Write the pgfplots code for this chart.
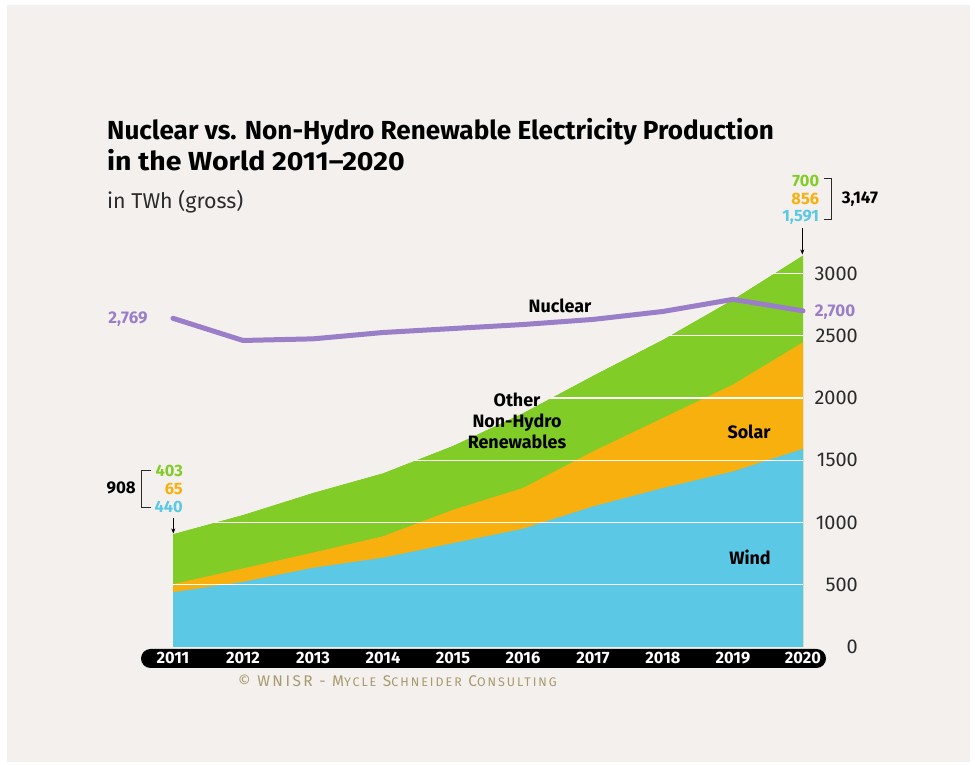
\documentclass[border=0pt]{standalone}
\usepackage{fontspec}
\setmainfont{Fira Sans}
\usepackage{pgfplots}
\usepackage{pgfplotstable}
\pgfplotsset{compat=1.18}
\usetikzlibrary{arrows.meta}

\definecolor{bg}{HTML}{F3F0ED}
\definecolor{cgreen}{HTML}{82CC27}
\definecolor{corange}{HTML}{F8B00F}
\definecolor{cblue}{HTML}{5BC8E5}
\definecolor{cnuc}{HTML}{9B7EC8}
\definecolor{ctan}{HTML}{A89A6E}
\definecolor{ctext}{HTML}{2B2B2B}

\pgfplotstableread{
year wind solar other nuclear
2011 440 65 403 2640
2012 523 108 431 2462
2013 636 122 481 2475
2014 717 172 508 2526
2015 834 268 515 2558
2016 950 327 603 2590
2017 1129 442 609 2631
2018 1277 563 630 2695
2019 1410 698 684 2792
2020 1591 856 700 2700
}\data
\pgfplotstablecreatecol[expr={\thisrow{wind}+\thisrow{solar}}]{ws}{\data}
\pgfplotstablecreatecol[expr={\thisrow{wind}+\thisrow{solar}+\thisrow{other}}]{total}{\data}

\newcommand{\fs}[1]{\fontsize{#1}{#1}\selectfont}

\begin{document}
\begin{tikzpicture}[x=1bp,y=1bp]
\useasboundingbox (0,0) rectangle (975,765);
\fill[white] (0,0) rectangle (975,765);
\fill[bg] (7,3) rectangle (970,760);
\fill[black, rounded corners=9.5bp] (141,97) rectangle (826,116);

\begin{axis}[
  at={(173bp,118bp)}, anchor=south west,
  scale only axis, width=630bp, height=398.4bp,
  xmin=2011, xmax=2020, ymin=0, ymax=3200,
  axis line style={draw=none},
  major tick length=0pt,
  xtick={2011,2012,...,2020},
  ytick={0,500,...,3000},
  yticklabel pos=right,
  /pgf/number format/1000 sep={},
  /pgf/number format/assume math mode=true,
  xticklabel style={font=\fs{16.5}\bfseries, text=white, anchor=center, inner sep=0pt, yshift=-11bp},
  yticklabel style={font=\fs{20}, text=ctext, anchor=east, inner sep=0pt, xshift=55bp},
  clip=false,
]
\addplot[fill=cgreen, draw=none] table[x=year,y=total]{\data} \closedcycle;
\addplot[fill=corange, draw=none] table[x=year,y=ws]{\data} \closedcycle;
\addplot[fill=cblue, draw=none] table[x=year,y=wind]{\data} \closedcycle;
\addplot[white, line width=1.2bp] coordinates {(2011,500) (2020,500)};
\addplot[white, line width=1.2bp] coordinates {(2011,1000) (2020,1000)};
\addplot[white, line width=1.2bp] coordinates {(2011,1500) (2020,1500)};
\addplot[white, line width=1.2bp] coordinates {(2011,2000) (2020,2000)};
\addplot[white, line width=1.2bp] coordinates {(2011,2500) (2020,2500)};
\addplot[white, line width=1.2bp] coordinates {(2011,3000) (2020,3000)};
\addplot[fill=bg, draw=none] table[x=year,y=total]{\data} -- (axis cs:2020,3200) -- (axis cs:2011,3200) -- cycle;
\addplot[cnuc, line width=5bp, line join=round, line cap=round] table[x=year,y=nuclear]{\data};
\end{axis}

% titles
\node[anchor=base west, inner sep=0, font=\fs{26.2}\bfseries] at (107,625) {Nuclear vs. Non-Hydro Renewable Electricity Production};
\node[anchor=base west, inner sep=0, font=\fs{26.2}\bfseries, xscale=1.09] at (107,594) {in the World 2011–2020};
\node[anchor=base west, inner sep=0, font=\fs{21.5}, text=ctext] at (107,556) {in TWh (gross)};

% in-chart labels
\node[font=\fs{18}\bfseries, inner sep=0] at (560,459) {Nuclear};
\node[font=\fs{18}\bfseries, inner sep=0, align=center] at (517,344) {Other\\[3bp]Non-Hydro\\[3bp]Renewables};
\node[font=\fs{18}\bfseries, inner sep=0] at (749,333) {Solar};
\node[font=\fs{18}\bfseries, inner sep=0] at (750,208) {Wind};

% nuclear values
\node[font=\fs{17}\bfseries, text=cnuc, inner sep=0] at (128,446) {2,769};
\node[font=\fs{17}\bfseries, text=cnuc, inner sep=0] at (835,453) {2,700};

% left annotation
\node[font=\fs{17}\bfseries, anchor=east, inner sep=0] at (136,277) {908};
\node[font=\fs{16.5}\bfseries, text=cgreen, anchor=east, inner sep=0] at (183,294.3) {403};
\node[font=\fs{16.5}\bfseries, text=corange, anchor=east, inner sep=0] at (183,276) {65};
\node[font=\fs{16.5}\bfseries, text=cblue, anchor=east, inner sep=0] at (183,257.7) {440};
\draw[ctext, line width=1bp] (150.5,294.3) -- (141.7,294.3) -- (141.7,257.7) -- (150.5,257.7);
\draw[-{Stealth[length=5bp,width=4bp]}, line width=0.8bp] (173.3,247) -- (173.3,231.5);

% right annotation
\node[font=\fs{16.5}\bfseries, text=cgreen, anchor=east, inner sep=0] at (819.3,584.3) {700};
\node[font=\fs{16.5}\bfseries, text=corange, anchor=east, inner sep=0] at (819.3,566) {856};
\node[font=\fs{16.5}\bfseries, text=cblue, anchor=east, inner sep=0] at (819.3,547.7) {1,591};
\draw[ctext, line width=1bp] (824,586) -- (831.7,586) -- (831.7,545) -- (824,545);
\node[font=\fs{17}\bfseries, anchor=west, inner sep=0] at (841.7,566) {3,147};
\draw[-{Stealth[length=5bp,width=4bp]}, line width=0.8bp] (802.3,536.7) -- (802.3,510.5);

% copyright
\node[anchor=base west, inner sep=0, text=ctan, font=\fs{15.5}\addfontfeature{LetterSpace=16}] at (238,78) {© WNISR - M{\fs{12.5}YCLE} S{\fs{12.5}CHNEIDER} C{\fs{12.5}ONSULTING}};
\end{tikzpicture}
\end{document}
